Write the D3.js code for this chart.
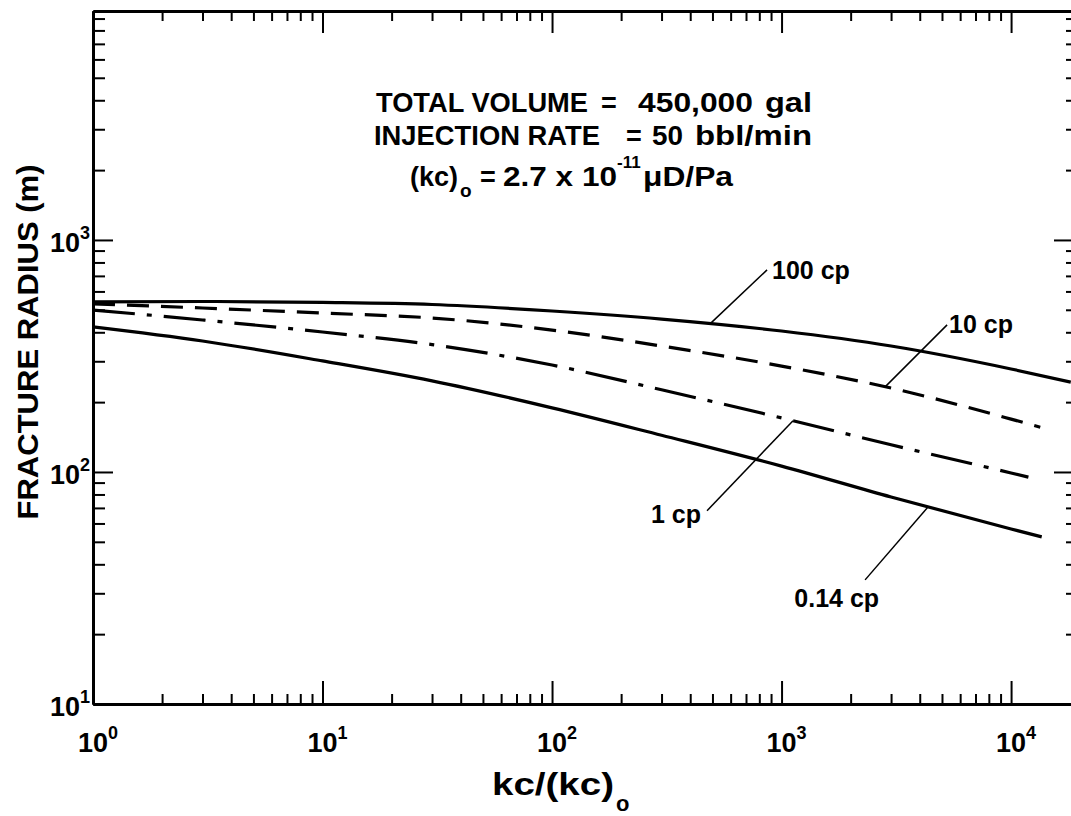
<!DOCTYPE html>
<html lang="en">
<head>
  <meta charset="UTF-8">
  <title>Fracture radius vs kc/(kc)o</title>
  <script src="https://d3js.org/d3.v7.min.js"></script>
  <style>
    body { margin: 0; background: #fff; }
    svg { display: block; font-family: "Liberation Sans", Arial, sans-serif; font-weight: bold; }
    .axis path, .axis line { stroke: #000; }
    .axis path { stroke-width: 3; }
    .axis line { stroke-width: 2; }
  </style>
</head>
<body>
  <div class="canvas"></div>
  <script>
    // tick values
    const xMajor = [1, 10, 100, 1000, 10000];
    const yMajor = [10, 100, 1000];
    const xExp = ['0', '1', '2', '3', '4'];
    const yExp = ['1', '2', '3'];

    // curves (kc/(kc)o , fracture radius m)
    const kc100 = [1, 3, 10, 30, 100, 300, 1000, 3000, 10000, 18200];
    const r100  = [541, 543, 538, 527, 494, 456, 405, 349, 278, 244];
    const kc10  = [1, 3, 10, 30, 100, 300, 1000, 3000, 10000, 13400];
    const r10   = [530, 509, 484, 461, 409, 349, 286, 230, 169, 156];
    const kc1   = [1, 3, 10, 30, 100, 300, 1000, 3000, 10000, 11900];
    const r1    = [499, 452, 401, 354, 289, 226, 171, 131, 99, 95];
    const kc014 = [1, 3, 10, 30, 100, 300, 1000, 3000, 10000, 13600];
    const r014  = [422, 367, 301, 247, 189, 144, 106, 78, 56.8, 52.5];

    const seriesNames = ['100 cp', '10 cp', '1 cp', '0.14 cp'];
    // where each leader line touches its curve
    const labelAt = [488, 2825, 1122, 4350];

    const width = 1071;
    const height = 816;
    const [ml, mr, mt, mb] = [93, 1074, 11, 704];

    const svg = d3.select('.canvas')
                  .append('svg')
                  .attr('width', width)
                  .attr('height', height);

    const x = d3.scaleLog().domain([1, 18800]).range([ml, mr]);
    const y = d3.scaleLog().domain([10, 9700]).range([mb, mt]);

    // minor ticks 2..9 per decade
    const minors = (lo, hi) => {
      const out = [];
      for (let d = lo; d < hi; d *= 10) {
        for (let k = 2; k <= 9; k++) if (d * k <= hi) out.push(d * k);
      }
      return out;
    };
    const xMinor = minors(1, 18800);
    const yMinor = minors(10, 9700);

    const addAxis = (axisFn, scale, tx, ty, majors, minorVals, majLen, minLen) => {
      svg.append('g').attr('class', 'axis')
        .attr('transform', `translate(${tx},${ty})`)
        .call(axisFn(scale).tickValues(minorVals).tickSizeInner(-minLen).tickSizeOuter(0).tickFormat(''));
      svg.append('g').attr('class', 'axis')
        .attr('transform', `translate(${tx},${ty})`)
        .call(axisFn(scale).tickValues(majors).tickSizeInner(-majLen).tickSizeOuter(0).tickFormat(''));
    };
    addAxis(d3.axisBottom, x, 0, mb, xMajor, xMinor, 23, 10);
    addAxis(d3.axisTop, x, 0, mt, xMajor, xMinor, 22, 10);
    addAxis(d3.axisLeft, y, ml, 0, yMajor, yMinor, 20, 12);
    addAxis(d3.axisRight, y, mr, 0, yMajor, yMinor, 20, 8);
    svg.selectAll('.axis text').remove();

    // tick labels 10^n
    const xl = svg.append('g').selectAll('text').data(xMajor).enter()
      .append('text')
      .attr('x', d => x(d) - 15)
      .attr('y', 752)
      .attr('font-size', 27);
    xl.append('tspan').text('10');
    xl.append('tspan').attr('dy', -13).attr('font-size', 18).text((d, i) => xExp[i]);

    const yl = svg.append('g').selectAll('text').data(yMajor).enter()
      .append('text')
      .attr('x', 50)
      .attr('y', d => y(d) + 12)
      .attr('font-size', 27);
    yl.append('tspan').text('10');
    yl.append('tspan').attr('dy', -13).attr('font-size', 18).text((d, i) => yExp[i]);

    // axis titles
    svg.append('text')
      .attr('transform', 'translate(38,342) rotate(-90)')
      .attr('text-anchor', 'middle')
      .attr('font-size', 29)
      .attr('textLength', 355)
      .attr('lengthAdjust', 'spacingAndGlyphs')
      .text('FRACTURE RADIUS (m)');

    svg.append('text').attr('x', 492).attr('y', 795).attr('font-size', 31)
      .attr('textLength', 122).attr('lengthAdjust', 'spacingAndGlyphs')
      .text('kc/(kc)');
    svg.append('text').attr('x', 616).attr('y', 811).attr('font-size', 22).text('o');

    // curves
    const series = [
      { kc: kc100, r: r100, dash: null },
      { kc: kc10,  r: r10,  dash: '22,12' },
      { kc: kc1,   r: r1,   dash: '42,12,5,12' },
      { kc: kc014, r: r014, dash: null }
    ];
    const line = d3.line()
      .x(d => x(d[0]))
      .y(d => y(d[1]))
      .curve(d3.curveMonotoneX);

    svg.append('g').selectAll('path').data(series).enter()
      .append('path')
      .attr('d', s => line(d3.zip(s.kc, s.r)))
      .attr('fill', 'none')
      .attr('stroke', '#000')
      .attr('stroke-width', 3.2)
      .attr('stroke-dasharray', s => s.dash);

    // log-log interpolation on a curve
    const valueAt = (s, k) => {
      const i = Math.max(1, Math.min(s.kc.length - 1, d3.bisectLeft(s.kc, k)));
      const t = (Math.log(k) - Math.log(s.kc[i - 1])) / (Math.log(s.kc[i]) - Math.log(s.kc[i - 1]));
      return Math.exp(Math.log(s.r[i - 1]) + t * (Math.log(s.r[i]) - Math.log(s.r[i - 1])));
    };

    // leader offsets [line dx, line dy, text dx, text dy, anchor]
    const leader = [
      [57, -54, 62, -45, 'start'],
      [62, -62, 64, -54, 'start'],
      [-86, 90, -92, 102, 'end'],
      [-63, 73, -49, 100, 'end']
    ];
    seriesNames.forEach((name, i) => {
      const px = x(labelAt[i]);
      const py = y(valueAt(series[i], labelAt[i]));
      const o = leader[i];
      svg.append('line')
        .attr('x1', px).attr('y1', py)
        .attr('x2', px + o[0]).attr('y2', py + o[1])
        .attr('stroke', '#000').attr('stroke-width', 1.5);
      svg.append('text')
        .attr('x', px + o[2]).attr('y', py + o[3])
        .attr('text-anchor', o[4])
        .attr('font-size', 25)
        .text(name);
    });

    // note block
    const note = svg.append('g').attr('font-size', 27);
    const seg = (txt, x0, y0, len) => {
      const t = note.append('text').attr('x', x0).attr('y', y0).text(txt);
      if (len) t.attr('textLength', len).attr('lengthAdjust', 'spacingAndGlyphs');
      return t;
    };
    seg('TOTAL VOLUME', 376, 112, 212);
    seg('=', 601, 112);
    seg('450,000', 638, 112, 115);
    seg('gal', 765, 112, 47);
    seg('INJECTION RATE', 374, 145, 226);
    seg('=', 626, 145);
    seg('50', 652, 145, 31);
    seg('bbl/min', 695, 145, 117);
    seg('(kc)', 410, 186, 48);
    note.append('text').attr('x', 460).attr('y', 197).attr('font-size', 19).text('o');
    seg('=', 480, 186);
    seg('2.7 x 10', 503, 186, 114);
    note.append('text').attr('x', 617).attr('y', 168).attr('font-size', 17).text('-11');
    seg('\u03bcD/Pa', 643, 186, 90);
  </script>
</body>
</html>
